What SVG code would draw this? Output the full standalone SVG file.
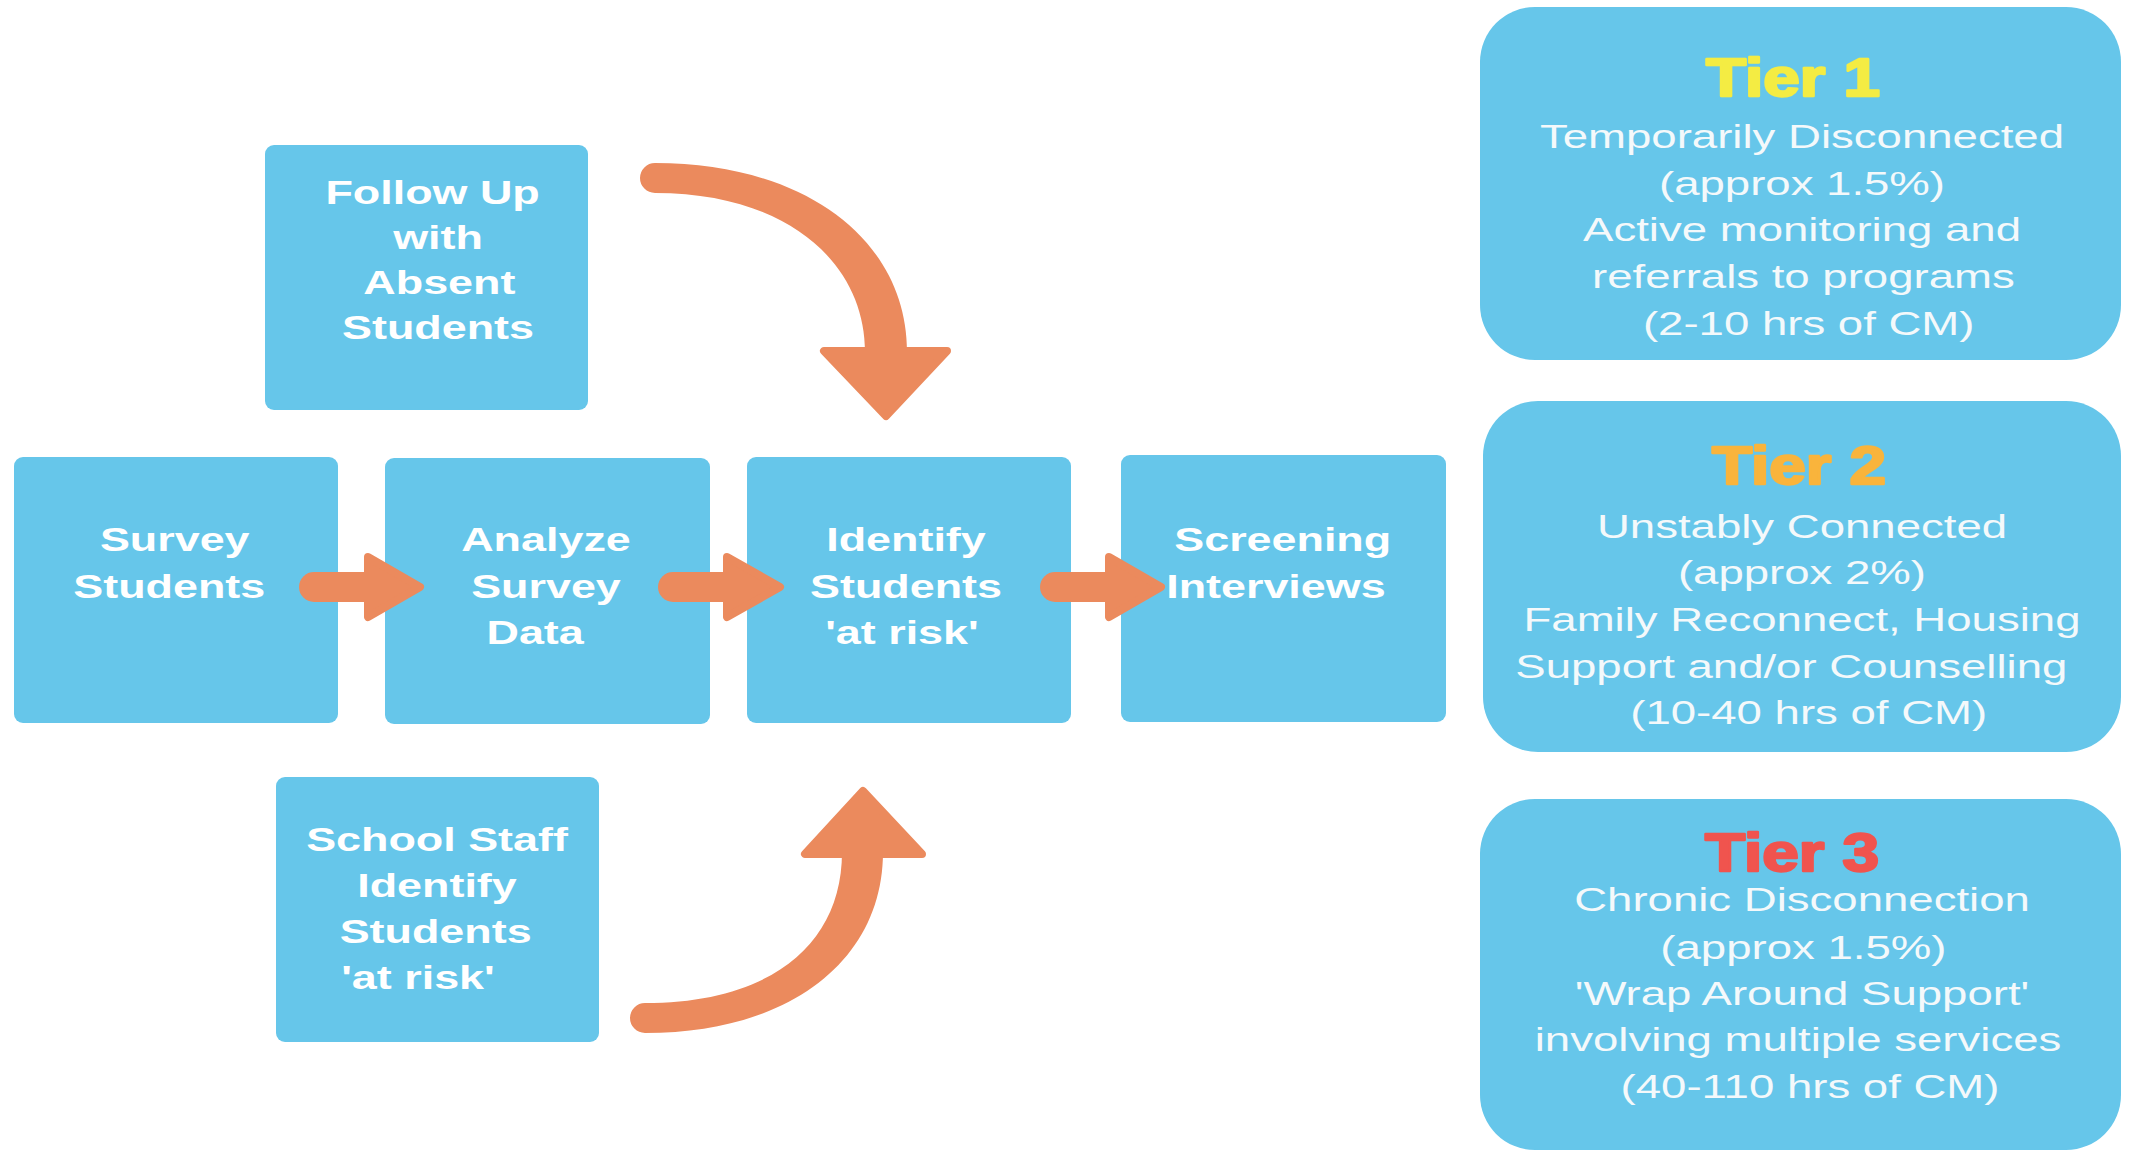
<svg xmlns="http://www.w3.org/2000/svg" width="2131" height="1150" viewBox="0 0 2131 1150">
<style>
.box{fill:#66C6EA}
.lbl{font-family:"Liberation Sans",Arial,sans-serif;font-weight:bold;font-size:33px;fill:#FFFFFF;text-anchor:middle}
.body{font-family:"Liberation Sans",Arial,sans-serif;font-size:34px;fill:#F4F9FB;text-anchor:middle}
.title{font-family:"Liberation Sans",Arial,sans-serif;font-weight:bold;font-size:53px;text-anchor:middle;stroke-width:2.4;stroke-linejoin:round}
.arr{fill:#EB8A5D}
.shaft{stroke:#EB8A5D;stroke-width:30;stroke-linecap:round;fill:none}
.head{fill:#EB8A5D;stroke:#EB8A5D;stroke-width:8;stroke-linejoin:round}
</style>
<rect width="2131" height="1150" fill="#FFFFFF"/>

<g id="node-followup">
  <rect class="box" x="265" y="145" width="323" height="265" rx="9"/>
  <g transform="translate(438 0) scale(1.36 1)">
    <text class="lbl" x="-4" y="204">Follow Up</text>
    <text class="lbl" x="0" y="249">with</text>
    <text class="lbl" x="1" y="294">Absent</text>
    <text class="lbl" x="0" y="339">Students</text>
  </g>
</g>

<g id="node-survey">
  <rect class="box" x="14" y="457" width="324" height="266" rx="9"/>
  <g transform="translate(172 0) scale(1.36 1)">
    <text class="lbl" x="2" y="551">Survey</text>
    <text class="lbl" x="-2" y="598">Students</text>
  </g>
</g>

<g id="node-analyze">
  <rect class="box" x="385" y="458" width="325" height="266" rx="9"/>
  <g transform="translate(546 0) scale(1.36 1)">
    <text class="lbl" x="0" y="551">Analyze</text>
    <text class="lbl" x="0" y="598">Survey</text>
    <text class="lbl" x="-8" y="644">Data</text>
  </g>
</g>

<g id="node-identify">
  <rect class="box" x="747" y="457" width="324" height="266" rx="9"/>
  <g transform="translate(906 0) scale(1.36 1)">
    <text class="lbl" x="0" y="551">Identify</text>
    <text class="lbl" x="0" y="598">Students</text>
    <text class="lbl" x="-3" y="644">'at risk'</text>
  </g>
</g>

<g id="node-screening">
  <rect class="box" x="1121" y="455" width="325" height="267" rx="9"/>
  <g transform="translate(1280 0) scale(1.36 1)">
    <text class="lbl" x="2" y="551">Screening</text>
    <text class="lbl" x="-3" y="598">Interviews</text>
  </g>
</g>

<g id="node-schoolstaff">
  <rect class="box" x="276" y="777" width="323" height="265" rx="9"/>
  <g transform="translate(437 0) scale(1.36 1)">
    <text class="lbl" x="0" y="851">School Staff</text>
    <text class="lbl" x="0" y="897">Identify</text>
    <text class="lbl" x="-1" y="943">Students</text>
    <text class="lbl" x="-14" y="989">'at risk'</text>
  </g>
</g>

<g id="node-tier1">
  <rect class="box" x="1480" y="7" width="641" height="353" rx="55"/>
  <g transform="translate(1793 0) scale(1.24 1)">
    <text class="title" x="0" y="96" fill="#F4EC43" stroke="#F4EC43">Tier 1</text>
  </g>
  <g transform="translate(1802 0) scale(1.34 1)">
    <text class="body" x="0" y="148">Temporarily Disconnected</text>
    <text class="body" x="0" y="195">(approx 1.5%)</text>
    <text class="body" x="0" y="241">Active monitoring and</text>
    <text class="body" x="1" y="288">referrals to programs</text>
    <text class="body" x="5" y="335">(2-10 hrs of CM)</text>
  </g>
</g>

<g id="node-tier2">
  <rect class="box" x="1483" y="401" width="638" height="351" rx="55"/>
  <g transform="translate(1799 0) scale(1.24 1)">
    <text class="title" x="0" y="484" fill="#F9B43C" stroke="#F9B43C">Tier 2</text>
  </g>
  <g transform="translate(1802 0) scale(1.34 1)">
    <text class="body" x="0" y="538">Unstably Connected</text>
    <text class="body" x="0" y="584">(approx 2%)</text>
    <text class="body" x="0" y="631">Family Reconnect, Housing</text>
    <text class="body" x="-8" y="678">Support and/or Counselling</text>
    <text class="body" x="5" y="724">(10-40 hrs of CM)</text>
  </g>
</g>

<g id="node-tier3">
  <rect class="box" x="1480" y="799" width="641" height="351" rx="55"/>
  <g transform="translate(1792 0) scale(1.24 1)">
    <text class="title" x="0" y="871" fill="#F0544E" stroke="#F0544E">Tier 3</text>
  </g>
  <g transform="translate(1802 0) scale(1.34 1)">
    <text class="body" x="0" y="911">Chronic Disconnection</text>
    <text class="body" x="1" y="959">(approx 1.5%)</text>
    <text class="body" x="0" y="1005">'Wrap Around Support'</text>
    <text class="body" x="-3" y="1051">involving multiple services</text>
    <text class="body" x="6" y="1098">(40-110 hrs of CM)</text>
  </g>
</g>

<g id="connectors">
  <path class="shaft" d="M314,587 H372"/>
  <polygon class="head" points="368,557 420,587 368,617"/>
  <path class="shaft" d="M673,587 H731"/>
  <polygon class="head" points="727,557 780,587 727,617"/>
  <path class="shaft" d="M1055,587 H1113"/>
  <polygon class="head" points="1109,557 1161,587 1109,617"/>
  <path class="arr" d="M655,163 C805,163 907,240 907,352 L865,352 C865,265 790,193 655,193 A15,15 0 0 1 655,163 Z"/>
  <polygon class="head" points="824,351 947,351 886,416"/>
  <path class="arr" d="M645,1033 C790,1033 883,960 883,852 L842,852 C842,945 770,1003 645,1003 A15,15 0 0 0 645,1033 Z"/>
  <polygon class="head" points="805,854 922,854 863,791"/>
</g>
</svg>
